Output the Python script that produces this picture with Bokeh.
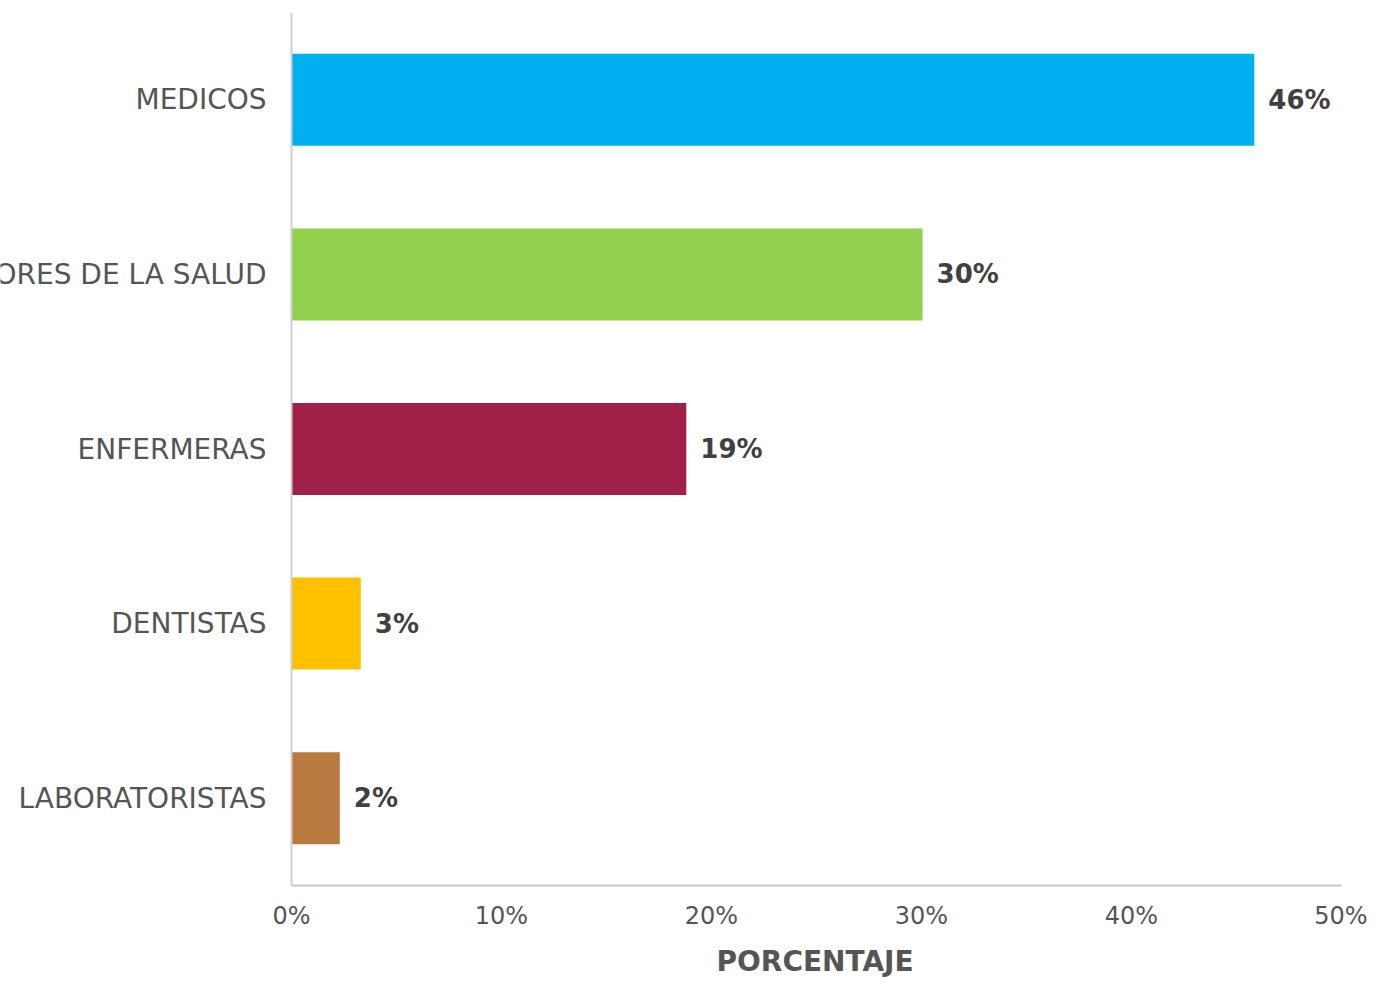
from bokeh.plotting import figure
from bokeh.models import ColumnDataSource, Range1d, FactorRange, FixedTicker, PrintfTickFormatter, Span, Title
from bokeh.core.properties import value
from bokeh.embed import file_html
from bokeh.resources import INLINE

categories = ["MEDICOS", "OTROS TRABAJADORES DE LA SALUD", "ENFERMERAS", "DENTISTAS", "LABORATORISTAS"]
values = [45.85, 30.05, 18.8, 3.3, 2.3]
value_labels = ["46%", "30%", "19%", "3%", "2%"]
colors = ["#00b0f0", "#92d050", "#9f2148", "#ffc000", "#b87a3f"]
x_ticks = [0, 10, 20, 30, 40, 50]
axis_title = "PORCENTAJE"

FONT = "DejaVu Sans"

src = ColumnDataSource(dict(cat=categories, val=values, lab=value_labels, col=colors,
                            zero=[0] * len(categories)))

p = figure(width=1367, height=987,
           y_range=FactorRange(factors=list(reversed(categories))),
           x_range=Range1d(-291 / 21.0, 50),
           output_backend="svg", toolbar_location=None,
           y_axis_location=None,
           min_border_left=0, min_border_right=26, min_border_top=12, min_border_bottom=102)
p.title.visible = False
p.outline_line_color = None
p.xgrid.visible = False
p.ygrid.visible = False
p.background_fill_color = "#ffffff"
p.border_fill_color = "#ffffff"

p.hbar(y="cat", right="val", left=0, height=0.527, fill_color="col", line_color=None, source=src)

p.text(x="zero", y="cat", text="cat", x_offset=-25, text_align="right", text_baseline="middle",
       text_font=value(FONT), text_font_size="28px", text_color="#555555", source=src)

p.text(x="val", y="cat", text="lab", x_offset=14, text_align="left", text_baseline="middle",
       text_font=value(FONT), text_font_size="26px", text_font_style="bold",
       text_color="#404040", source=src)

p.add_layout(Span(location=0, dimension="height", line_color="#cfcfcf", line_width=2))

ax = p.xaxis[0]
ax.bounds = (0, 50)
ax.ticker = FixedTicker(ticks=x_ticks)
ax.formatter = PrintfTickFormatter(format="%d%%")
ax.axis_line_color = "#c8c8c8"
ax.axis_line_width = 2
ax.major_tick_line_color = None
ax.minor_tick_line_color = None
ax.major_label_standoff = 10
ax.major_label_text_font = FONT
ax.major_label_text_font_size = "24px"
ax.major_label_text_color = "#555555"

p.add_layout(Title(text=axis_title, align="left", offset=716, standoff=20,
                   text_font=FONT, text_font_size="28px", text_font_style="bold",
                   text_color="#555555"), "below")

open("out.html", "w").write(file_html(p, INLINE))
